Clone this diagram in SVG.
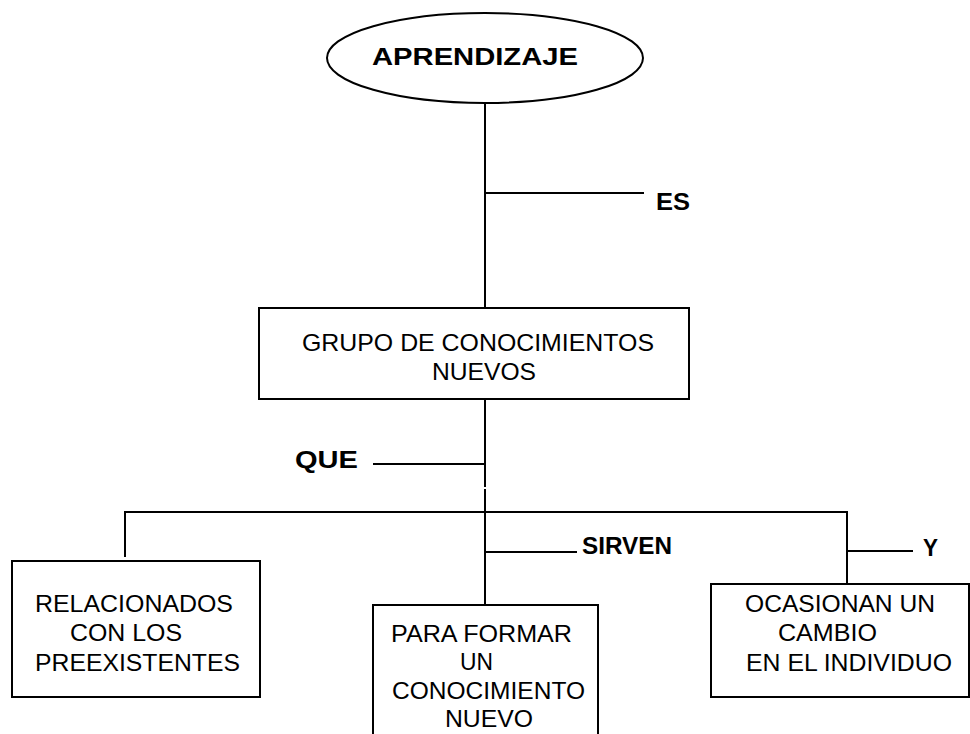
<svg xmlns="http://www.w3.org/2000/svg" width="970" height="734" viewBox="0 0 970 734">
<style>
.shape{fill:#fff;stroke:#000;stroke-width:2}
.conn line{stroke:#000;stroke-width:2}
.t{font-family:"Liberation Sans",Arial,sans-serif;font-size:24px;fill:#000}
.b{font-family:"Liberation Sans",Arial,sans-serif;font-weight:bold;font-size:23px;fill:#000}
</style>
<rect width="970" height="734" fill="#fff"/>
<g id="connectors" class="conn">
<line x1="485" y1="103" x2="485" y2="308"/>
<line x1="485" y1="193" x2="644" y2="193"/>
<line x1="485" y1="399" x2="485" y2="487"/>
<line x1="485" y1="489" x2="485" y2="605"/>
<line x1="373" y1="464" x2="485" y2="464"/>
<line x1="124" y1="512" x2="848" y2="512"/>
<line x1="125" y1="511" x2="125" y2="557"/>
<line x1="847" y1="511" x2="847" y2="584"/>
<line x1="485" y1="552" x2="577" y2="552"/>
<line x1="847" y1="551" x2="913" y2="551"/>
<text class="b" x="656" y="210" font-size="24" textLength="34" lengthAdjust="spacingAndGlyphs">ES</text>
<text class="b" x="295" y="468" font-size="24" textLength="63" lengthAdjust="spacingAndGlyphs">QUE</text>
<text class="b" x="582" y="554" textLength="90" lengthAdjust="spacingAndGlyphs">SIRVEN</text>
<text class="b" x="923" y="556" textLength="15" lengthAdjust="spacingAndGlyphs">Y</text>
</g>
<g id="aprendizaje">
<ellipse class="shape" cx="485" cy="58" rx="158" ry="45" stroke-width="1.5"/>
<text class="b" x="372" y="65" font-size="30" textLength="206" lengthAdjust="spacingAndGlyphs">APRENDIZAJE</text>
</g>
<g id="grupo">
<rect class="shape" x="259" y="308" width="430" height="91"/>
<text class="t" x="302" y="351" textLength="352" lengthAdjust="spacingAndGlyphs">GRUPO DE CONOCIMIENTOS</text>
<text class="t" x="432" y="380" textLength="104" lengthAdjust="spacingAndGlyphs">NUEVOS</text>
</g>
<g id="relacionados">
<rect class="shape" x="12" y="561" width="248" height="136"/>
<text class="t" x="35" y="612" textLength="198" lengthAdjust="spacingAndGlyphs">RELACIONADOS</text>
<text class="t" x="70" y="641" textLength="112" lengthAdjust="spacingAndGlyphs">CON LOS</text>
<text class="t" x="35" y="671" textLength="205" lengthAdjust="spacingAndGlyphs">PREEXISTENTES</text>
</g>
<g id="formar">
<rect class="shape" x="373" y="605" width="225" height="140"/>
<text class="t" x="391" y="642" textLength="181" lengthAdjust="spacingAndGlyphs">PARA FORMAR</text>
<text class="t" x="460" y="670" textLength="33" lengthAdjust="spacingAndGlyphs">UN</text>
<text class="t" x="392" y="699" textLength="193" lengthAdjust="spacingAndGlyphs">CONOCIMIENTO</text>
<text class="t" x="445" y="727" textLength="88" lengthAdjust="spacingAndGlyphs">NUEVO</text>
</g>
<g id="ocasionan">
<rect class="shape" x="711" y="584" width="258" height="113"/>
<text class="t" x="745" y="612" textLength="190" lengthAdjust="spacingAndGlyphs">OCASIONAN UN</text>
<text class="t" x="778" y="641" textLength="99" lengthAdjust="spacingAndGlyphs">CAMBIO</text>
<text class="t" x="746" y="671" textLength="206" lengthAdjust="spacingAndGlyphs">EN EL INDIVIDUO</text>
</g>
</svg>
